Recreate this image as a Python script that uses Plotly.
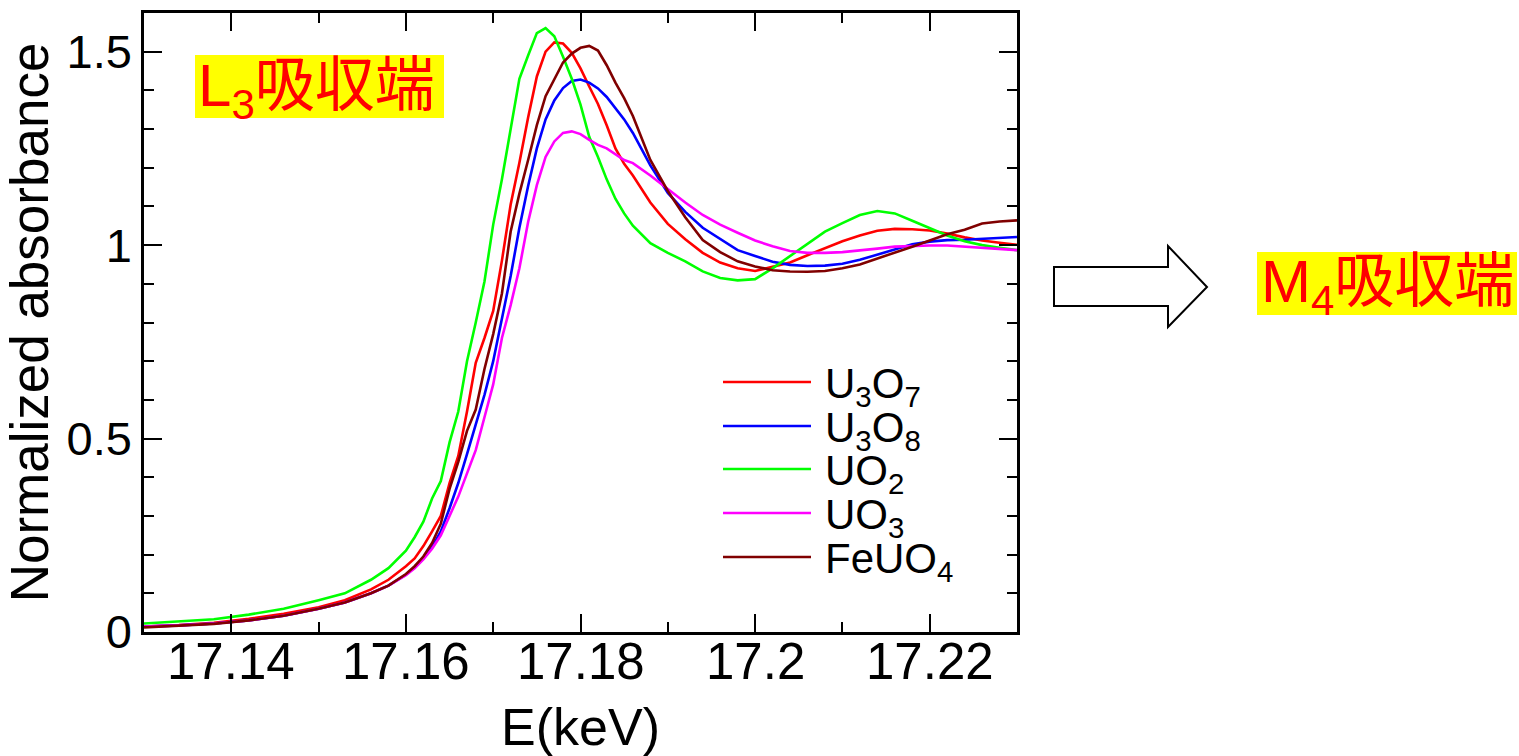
import plotly.graph_objects as go

# ---------------- data ----------------
energy = [17.130, 17.134, 17.138, 17.142, 17.146, 17.150, 17.153, 17.156, 17.158, 17.160,
          17.161, 17.162, 17.163, 17.164, 17.165, 17.166, 17.167, 17.168, 17.169, 17.170,
          17.171, 17.172, 17.173, 17.174, 17.175, 17.176, 17.177, 17.178, 17.179, 17.180,
          17.181, 17.182, 17.183, 17.184, 17.185, 17.186, 17.188, 17.190, 17.192, 17.194,
          17.196, 17.198, 17.200, 17.202, 17.204, 17.206, 17.208, 17.210, 17.212, 17.214,
          17.216, 17.218, 17.220, 17.222, 17.224, 17.226, 17.228, 17.230]

u3o7 = [0.014, 0.018, 0.024, 0.034, 0.047, 0.064, 0.082, 0.11, 0.135, 0.17,
        0.19, 0.222, 0.26, 0.30, 0.385, 0.455, 0.57, 0.696, 0.76, 0.83,
        0.96, 1.105, 1.213, 1.33, 1.436, 1.50, 1.524, 1.521, 1.497, 1.457,
        1.41, 1.365, 1.31, 1.25, 1.21, 1.18, 1.11, 1.055, 1.015, 0.98,
        0.955, 0.94, 0.933, 0.944, 0.955, 0.974, 0.993, 1.01, 1.025, 1.037,
        1.042, 1.041, 1.038, 1.03, 1.02, 1.012, 1.006, 1.001]

u3o8 = [0.014, 0.017, 0.022, 0.03, 0.042, 0.06, 0.076, 0.1, 0.12, 0.148,
        0.167, 0.19, 0.22, 0.26, 0.32, 0.385, 0.46, 0.538, 0.613, 0.70,
        0.81, 0.92, 1.045, 1.153, 1.25, 1.325, 1.374, 1.406, 1.424, 1.428,
        1.42, 1.405, 1.383, 1.353, 1.325, 1.29, 1.206, 1.135, 1.086, 1.045,
        1.017, 0.987, 0.972, 0.957, 0.949, 0.946, 0.947, 0.952, 0.962, 0.976,
        0.99, 1.002, 1.009, 1.013, 1.014, 1.016, 1.019, 1.021]

uo2 = [0.022, 0.027, 0.033, 0.045, 0.06, 0.082, 0.10, 0.135, 0.165, 0.21,
       0.245, 0.285, 0.345, 0.39, 0.49, 0.57, 0.70, 0.80, 0.906, 1.053,
       1.17, 1.30, 1.43, 1.49, 1.548, 1.561, 1.54, 1.487, 1.43, 1.363,
       1.28, 1.228, 1.17, 1.12, 1.082, 1.05, 1.005, 0.98, 0.958, 0.932,
       0.915, 0.909, 0.912, 0.94, 0.972, 1.005, 1.035, 1.057, 1.078, 1.088,
       1.082, 1.063, 1.043, 1.025, 1.01, 1.0, 0.993, 0.987]

uo3 = [0.014, 0.017, 0.022, 0.03, 0.042, 0.06, 0.076, 0.1, 0.12, 0.147,
       0.165, 0.188, 0.215, 0.25, 0.30, 0.35, 0.41, 0.47, 0.555, 0.64,
       0.76, 0.845, 0.94, 1.06, 1.155, 1.228, 1.268, 1.29, 1.294, 1.287,
       1.272, 1.259, 1.25, 1.236, 1.22, 1.212, 1.18, 1.145, 1.11, 1.078,
       1.053, 1.032, 1.012, 0.997, 0.985, 0.98, 0.98, 0.982, 0.986, 0.991,
       0.996, 0.998, 0.999, 0.999, 0.996, 0.994, 0.991, 0.987]

feuo4 = [0.012, 0.016, 0.021, 0.03, 0.042, 0.06, 0.076, 0.1, 0.12, 0.15,
         0.17, 0.195, 0.23, 0.28, 0.37, 0.44, 0.52, 0.575, 0.68, 0.77,
         0.875, 1.035, 1.133, 1.22, 1.31, 1.385, 1.428, 1.472, 1.495, 1.51,
         1.515, 1.503, 1.465, 1.42, 1.38, 1.334, 1.22, 1.14, 1.072, 1.013,
         0.982, 0.958, 0.945, 0.935, 0.932, 0.931, 0.933, 0.94, 0.95, 0.965,
         0.979, 0.996, 1.012, 1.028, 1.04, 1.056, 1.061, 1.064]

series_names = ["U<sub>3</sub>O<sub>7</sub>", "U<sub>3</sub>O<sub>8</sub>", "UO<sub>2</sub>",
                "UO<sub>3</sub>", "FeUO<sub>4</sub>"]
series_values = [u3o7, u3o8, uo2, uo3, feuo4]
series_colors = ["#FF0000", "#0000FF", "#00FF00", "#FF00FF", "#800000"]

x_tickvals = [17.14, 17.16, 17.18, 17.20, 17.22]
x_ticktext = ["17.14", "17.16", "17.18", "17.2", "17.22"]
y_tickvals = [0, 0.5, 1, 1.5]
y_ticktext = ["0", "0.5", "1", "1.5"]

# ---------------- layout geometry (pixels) ----------------
W, H = 1519, 756
PL, PR, PT, PB = 144, 1017, 13, 632
FONT = "Liberation Sans, Arial, Noto Sans CJK JP, sans-serif"


def pxx(x):
    return (x - PL) / (PR - PL)


def pxy(y):
    return (PB - y) / (PB - PT)


fig = go.Figure()
for name, vals, col in zip(series_names, series_values, series_colors):
    fig.add_trace(go.Scatter(x=energy, y=vals, mode="lines", name=name,
                             line=dict(color=col, width=2.6), showlegend=False))

shapes = []
annotations = []

# x tick labels placed on the x scale (closer to the axis, as in the reference)
for v, t in zip(x_tickvals, x_ticktext):
    annotations.append(dict(xref="x", yref="paper", x=v, y=pxy(661),
                            xanchor="center", yanchor="middle", showarrow=False,
                            text=t, font=dict(family=FONT, size=51, color="black")))

# manual legend (long line samples like the reference)
legend_rows = [382, 426, 469, 513, 557]
for name, col, ry in zip(series_names, series_colors, legend_rows):
    shapes.append(dict(type="line", xref="paper", yref="paper",
                       x0=pxx(723), x1=pxx(811), y0=pxy(ry), y1=pxy(ry),
                       line=dict(color=col, width=2.6)))
    annotations.append(dict(xref="paper", yref="paper", x=pxx(823), y=pxy(ry + 4),
                            xanchor="left", yanchor="middle", showarrow=False,
                            text=name, font=dict(family=FONT, size=42, color="black")))

# L3 label with yellow box
shapes.append(dict(type="rect", xref="paper", yref="paper", layer="below",
                   x0=pxx(195), x1=pxx(444), y0=pxy(118), y1=pxy(55),
                   fillcolor="#FFFF00", line=dict(width=0)))
annotations.append(dict(xref="paper", yref="paper", x=pxx(196), y=pxy(90),
                        xanchor="left", yanchor="middle", showarrow=False,
                        text="L<sub>3</sub>吸収端",
                        font=dict(family=FONT, size=60, color="#FF0000")))

# block arrow
pts = [(1054, 267), (1168, 267), (1168, 246), (1207, 287), (1168, 327), (1168, 306), (1054, 306)]
path = "M " + " L ".join(f"{pxx(a):.5f},{pxy(b):.5f}" for a, b in pts) + " Z"
shapes.append(dict(type="path", xref="paper", yref="paper", path=path,
                   fillcolor="white", line=dict(color="black", width=2)))

# M4 label with yellow box
shapes.append(dict(type="rect", xref="paper", yref="paper", layer="below",
                   x0=pxx(1257), x1=pxx(1517), y0=pxy(315), y1=pxy(252),
                   fillcolor="#FFFF00", line=dict(width=0)))
annotations.append(dict(xref="paper", yref="paper", x=pxx(1259), y=pxy(286),
                        xanchor="left", yanchor="middle", showarrow=False,
                        text="M<sub>4</sub>吸収端",
                        font=dict(family=FONT, size=60, color="#FF0000")))

axis_common = dict(showline=True, linecolor="black", linewidth=2.5, mirror="ticks",
                   ticks="inside", tickwidth=2, tickcolor="black", ticklen=18,
                   showgrid=False, zeroline=False, automargin=False)

fig.update_layout(
    width=W, height=H,
    margin=dict(l=PL, r=W - PR, t=PT, b=H - PB, pad=0, autoexpand=False),
    paper_bgcolor="white", plot_bgcolor="white",
    font=dict(family=FONT, color="black"),
    showlegend=False,
    shapes=shapes, annotations=annotations,
    xaxis=dict(range=[17.13, 17.23], tickmode="array", tickvals=x_tickvals, ticktext=x_ticktext,
               showticklabels=False,
               minor=dict(dtick=0.01, tick0=17.13, ticks="inside", ticklen=10, tickwidth=2, tickcolor="black"),
               title=dict(text="E(keV)", font=dict(family=FONT, size=52), standoff=85),
               **axis_common),
    yaxis=dict(range=[0, 1.6], tickmode="array", tickvals=y_tickvals, ticktext=y_ticktext,
               tickfont=dict(family=FONT, size=47),
               minor=dict(dtick=0.1, tick0=0, ticks="inside", ticklen=10, tickwidth=2, tickcolor="black"),
               title=dict(text="Normalized absorbance", font=dict(family=FONT, size=53), standoff=10),
               **axis_common),
)

fig.write_html("out.html")
